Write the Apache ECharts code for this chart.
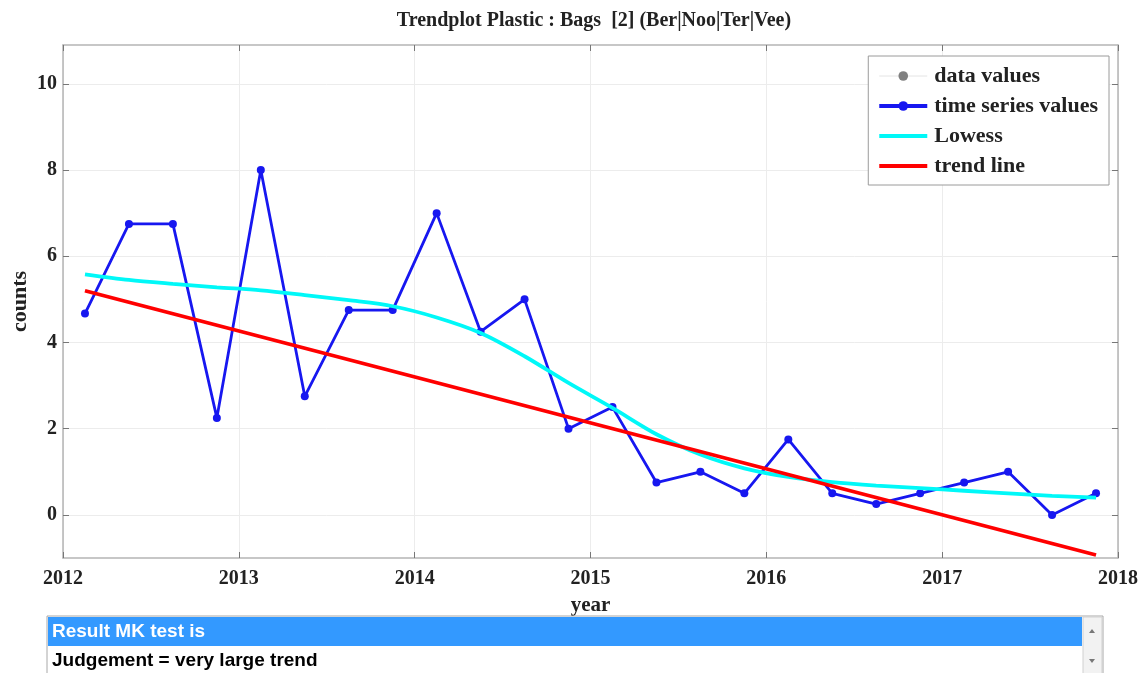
<!DOCTYPE html>
<html>
<head>
<meta charset="utf-8">
<script src="https://cdn.jsdelivr.net/npm/echarts@6/dist/echarts.min.js"></script>
<style>
html,body{margin:0;padding:0;background:#fff;}
#chart{width:1141px;height:673px;}
</style>
</head>
<body>
<div id="chart"></div>
<script>
// ---- data ----
var years = [2012.125, 2012.375, 2012.625, 2012.875, 2013.125, 2013.375, 2013.625, 2013.875,
             2014.125, 2014.375, 2014.625, 2014.875, 2015.125, 2015.375, 2015.625, 2015.875,
             2016.125, 2016.375, 2016.625, 2016.875, 2017.125, 2017.375, 2017.625, 2017.875];
var dataValues = [4.67, 6.75, 6.75, 2.25, 8.0, 2.75, 4.75, 4.75,
                  7.0, 4.25, 5.0, 2.0, 2.5, 0.75, 1.0, 0.5,
                  1.75, 0.5, 0.25, 0.5, 0.75, 1.0, 0.0, 0.5];
var timeSeriesValues = [4.67, 6.75, 6.75, 2.25, 8.0, 2.75, 4.75, 4.75,
                        7.0, 4.25, 5.0, 2.0, 2.5, 0.75, 1.0, 0.5,
                        1.75, 0.5, 0.25, 0.5, 0.75, 1.0, 0.0, 0.5];
var lowessValues = [5.58, 5.45, 5.36, 5.28, 5.21, 5.10, 4.98, 4.84,
                    4.58, 4.22, 3.68, 3.06, 2.48, 1.87, 1.40, 1.08,
                    0.88, 0.76, 0.68, 0.62, 0.56, 0.50, 0.44, 0.40];
var trendYears = [2012.125, 2017.875];
var trendValues = [5.2, -0.93];
var xTicks = [2012, 2013, 2014, 2015, 2016, 2017, 2018];
var yTicks = [0, 2, 4, 6, 8, 10];
var titleText = 'Trendplot Plastic : Bags  [2] (Ber|Noo|Ter|Vee)';
var legendNames = ['data values', 'time series values', 'Lowess', 'trend line'];
var resultLines = ['Result MK test is', 'Judgement = very large trend'];

function pairs(xs, ys) { return xs.map(function (x, i) { return [x, ys[i]]; }); }

var serif = "'Liberation Serif', 'Times New Roman', serif";
var sans = "'Liberation Sans', Arial, sans-serif";
var BLUE = '#1717f0', CYAN = '#00f8f8', RED = '#ff0000';

var chart = echarts.init(document.getElementById('chart'), null, {renderer: 'canvas'});
var option = {
  backgroundColor: '#ffffff',
  animation: false,
  title: {
    text: titleText,
    left: 594, top: 11, padding: 0, textAlign: 'center',
    textStyle: {fontFamily: serif, fontWeight: 'bold', fontSize: 20, color: '#222'}
  },
  legend: {
    data: [
      {name: legendNames[0], lineStyle: {width: 1, color: '#e4e4e4'}},
      {name: legendNames[1], lineStyle: {width: 4}},
      {name: legendNames[2], lineStyle: {width: 4}, itemStyle: {opacity: 0}},
      {name: legendNames[3], lineStyle: {width: 4}, itemStyle: {opacity: 0}}
    ],
    orient: 'vertical',
    right: 32, top: 56,
    backgroundColor: '#fff',
    borderColor: '#9a9a9a', borderWidth: 1,
    padding: [9, 11, 8, 9],
    itemGap: 8,
    itemWidth: 48, itemHeight: 12,
    textStyle: {fontFamily: serif, fontWeight: 'bold', fontSize: 22, color: '#222', lineHeight: 20, padding: [0, 0, 0, 2]}
  },
  grid: {left: 63, right: 23, top: 45, bottom: 115, show: false, outerBoundsMode: 'none', containLabel: false},
  xAxis: [{
    type: 'value', min: 2012, max: 2018, interval: 1,
    name: 'year', nameLocation: 'middle', nameGap: 37, nameMoveOverlap: false,
    nameTextStyle: {fontFamily: serif, fontWeight: 'bold', fontSize: 21, color: '#222'},
    axisLine: {show: true, onZero: false, lineStyle: {color: '#b5b5b5', width: 1.5}},
    axisTick: {show: true, inside: true, length: 6, lineStyle: {color: '#777'}},
    axisLabel: {fontFamily: serif, fontWeight: 'bold', fontSize: 20, color: '#222', margin: 11,
      formatter: function (v) { return String(Math.round(v)); }},
    splitLine: {show: true, lineStyle: {color: '#ececec', width: 1}}
  }, {
    type: 'value', min: 2012, max: 2018, interval: 1, position: 'top',
    axisLine: {show: true, onZero: false, lineStyle: {color: '#b5b5b5', width: 1.5}},
    axisTick: {show: true, inside: true, length: 6, lineStyle: {color: '#777'}},
    axisLabel: {show: false}, splitLine: {show: false}
  }],
  yAxis: [{
    type: 'value', min: -1, max: 10.9,
    name: 'counts', nameLocation: 'middle', nameGap: 32, nameRotate: 90, nameMoveOverlap: false,
    nameTextStyle: {fontFamily: serif, fontWeight: 'bold', fontSize: 22, color: '#222'},
    axisLine: {show: true, onZero: false, lineStyle: {color: '#b5b5b5', width: 1.5}},
    axisTick: {show: true, inside: true, length: 6, lineStyle: {color: '#777'}, customValues: yTicks},
    axisLabel: {fontFamily: serif, fontWeight: 'bold', fontSize: 20, color: '#222', margin: 6, customValues: yTicks},
    splitLine: {show: true, lineStyle: {color: '#ececec', width: 1}}
  }, {
    type: 'value', min: -1, max: 10.9, position: 'right',
    axisLine: {show: true, onZero: false, lineStyle: {color: '#b5b5b5', width: 1.5}},
    axisTick: {show: true, inside: true, length: 6, lineStyle: {color: '#777'}, customValues: yTicks},
    axisLabel: {show: false, customValues: yTicks}, splitLine: {show: false}
  }],
  series: [{
    name: 'data values', type: 'line', data: pairs(years, dataValues),
    symbol: 'circle', symbolSize: 6, showSymbol: true,
    itemStyle: {color: '#808080'}, lineStyle: {color: '#e2e2e2', width: 1}, z: 1
  }, {
    name: 'time series values', type: 'line', data: pairs(years, timeSeriesValues),
    symbol: 'circle', symbolSize: 8,
    itemStyle: {color: BLUE}, lineStyle: {color: BLUE, width: 2.8}, z: 3
  }, {
    name: 'Lowess', type: 'line', data: pairs(years, lowessValues), smooth: 0.3,
    symbol: 'none', itemStyle: {color: CYAN}, lineStyle: {color: CYAN, width: 3.8}, z: 4
  }, {
    name: 'trend line', type: 'line', data: pairs(trendYears, trendValues),
    symbol: 'none', itemStyle: {color: RED}, lineStyle: {color: RED, width: 3.8}, z: 5
  }],
  graphic: [
    {type: 'rect', shape: {x: 47, y: 616, width: 1056, height: 60},
     style: {fill: '#ffffff', stroke: '#a8a8a8', lineWidth: 1}, z: 10},
    {type: 'rect', shape: {x: 48, y: 617, width: 1034, height: 29},
     style: {fill: '#3399ff'}, z: 11},
    {type: 'text', x: 52, y: 632, z: 12,
     style: {text: resultLines[0], fill: '#ffffff', font: "bold 19px " + sans, textVerticalAlign: 'middle'}},
    {type: 'text', x: 52, y: 661, z: 12,
     style: {text: resultLines[1], fill: '#000000', font: "bold 19px " + sans, textVerticalAlign: 'middle'}},
    {type: 'rect', shape: {x: 1083, y: 617, width: 19, height: 58},
     style: {fill: '#f2f2f2', stroke: '#d0d0d0', lineWidth: 1}, z: 11},
    {type: 'polygon', shape: {points: [[1089, 633], [1095, 633], [1092, 629]]},
     style: {fill: '#777'}, z: 12},
    {type: 'polygon', shape: {points: [[1089, 659], [1095, 659], [1092, 663]]},
     style: {fill: '#777'}, z: 12}
  ]
};
chart.setOption(option);
</script>
</body>
</html>
